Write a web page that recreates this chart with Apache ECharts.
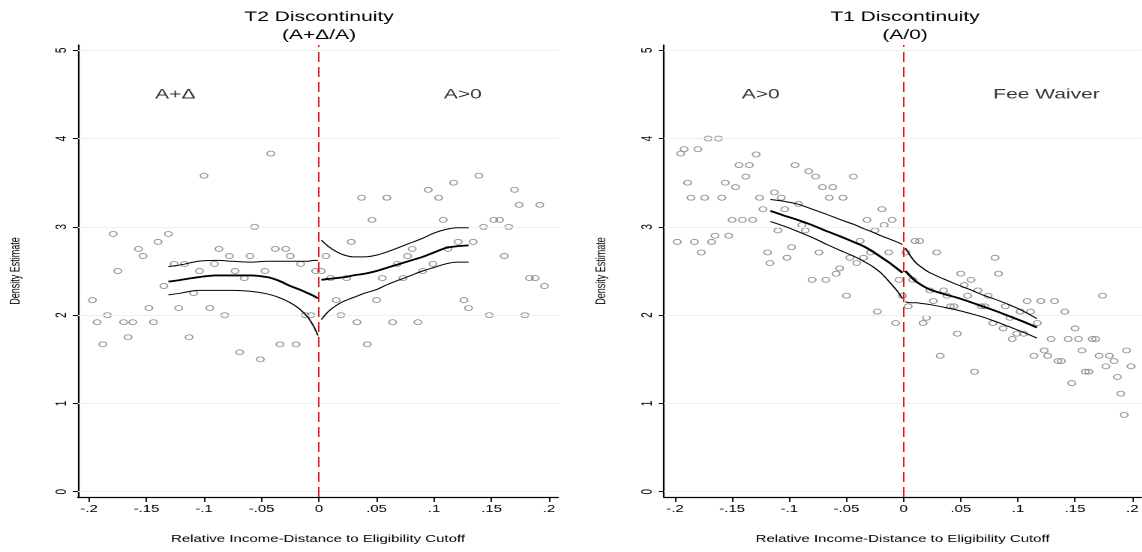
<!DOCTYPE html>
<html>
<head>
<meta charset="utf-8">
<script src="https://cdn.jsdelivr.net/npm/echarts@6/dist/echarts.min.js"></script>
<style>
html,body{margin:0;padding:0;background:#fff;overflow:hidden;width:1142px;height:552px;}
#wrap{width:1142px;height:552px;overflow:hidden;position:relative;}
#chart{width:762px;height:552px;transform:scaleX(1.5);transform-origin:0 0;position:absolute;left:0;top:0;}
</style>
</head>
<body>
<div id="wrap"><div id="chart"></div></div>
<script>
// ---------- tick labels / text ----------
const xTickValues = [-0.2, -0.15, -0.1, -0.05, 0, 0.05, 0.1, 0.15, 0.2];
const xTickLabels = ['-.2', '-.15', '-.1', '-.05', '0', '.05', '.1', '.15', '.2'];
const yTickValues = [0, 1, 2, 3, 4, 5];
const yTickLabels = ['0', '1', '2', '3', '4', '5'];
const xAxisTitle = 'Relative Income-Distance to Eligibility Cutoff';
const yAxisTitle = 'Density Estimate';
const panelTitles = ['T2 Discontinuity\n(A+\u0394/A)', 'T1 Discontinuity\n(A/0)'];
const t2Labels = ['A+\u0394', 'A>0'];
const t1Labels = ['A>0', 'Fee Waiver'];
const labelX = [-0.125, 0.125];
const labelY = [4.5, 4.5];
const cutoffX = [0];

// ---------- T2 panel: binned density points ----------
const t2PointsX = [
 -0.179,-0.175,-0.157,-0.153,-0.140,-0.131,-0.126,-0.117,-0.104,-0.100,-0.091,-0.087,-0.078,-0.073,-0.065,-0.060,-0.056,-0.047,-0.042,-0.038,-0.029,-0.025,-0.016,-0.003,0.002,0.006,
 -0.135,-0.197,-0.109,-0.193,-0.184,-0.188,-0.170,-0.162,-0.166,-0.148,-0.144,-0.122,-0.113,-0.095,-0.082,-0.069,-0.051,-0.034,-0.020,-0.012,-0.007,
 0.010,0.028,0.037,0.046,0.055,0.059,0.068,0.073,0.077,0.081,0.090,0.095,0.099,0.104,0.108,0.112,0.117,0.121,0.134,0.139,0.143,0.152,0.157,0.161,0.165,0.170,0.174,0.183,0.188,0.192,
 0.024,0.015,0.019,0.033,0.042,0.050,0.064,0.086,0.126,0.130,0.148,0.179,0.196
];
const t2PointsY = [
 2.92,2.50,2.75,2.67,2.83,2.92,2.58,2.58,2.50,3.58,2.58,2.75,2.67,2.50,2.42,2.67,3.00,2.50,3.83,2.75,2.75,2.67,2.58,2.50,2.50,2.67,
 2.33,2.17,2.25,1.92,2.00,1.67,1.92,1.92,1.75,2.08,1.92,2.08,1.75,2.08,2.00,1.58,1.50,1.67,1.67,2.00,2.00,
 2.42,2.83,3.33,3.08,2.42,3.33,2.58,2.42,2.67,2.75,2.50,3.42,2.58,3.33,3.08,2.75,3.50,2.83,2.83,3.58,3.00,3.08,3.08,2.67,3.00,3.42,3.25,2.42,2.42,3.25,
 2.42,2.17,2.00,1.92,1.67,2.17,1.92,1.92,2.17,2.08,2.00,2.00,2.33
];

// ---------- T2 panel: local linear fits with confidence bands ----------
const t2LeftFitX  = [-0.131,-0.12,-0.105,-0.09,-0.075,-0.06,-0.045,-0.035,-0.025,-0.017,-0.01,-0.005,-0.001];
const t2LeftFitHi = [2.55,2.57,2.61,2.62,2.61,2.60,2.61,2.61,2.61,2.61,2.61,2.62,2.62];
const t2LeftFitMid= [2.38,2.40,2.43,2.45,2.45,2.45,2.43,2.39,2.33,2.29,2.25,2.22,2.19];
const t2LeftFitLo = [2.23,2.25,2.28,2.28,2.28,2.27,2.24,2.20,2.14,2.07,1.98,1.88,1.77];
const t2RightFitX  = [0.002,0.008,0.015,0.022,0.03,0.04,0.05,0.06,0.07,0.08,0.09,0.1,0.11,0.12,0.13];
const t2RightFitHi = [2.85,2.78,2.72,2.68,2.66,2.66,2.68,2.72,2.77,2.82,2.87,2.93,2.97,2.99,2.99];
const t2RightFitMid= [2.40,2.41,2.42,2.43,2.45,2.47,2.50,2.54,2.58,2.62,2.66,2.71,2.76,2.78,2.79];
const t2RightFitLo = [1.95,2.04,2.11,2.16,2.20,2.25,2.29,2.35,2.40,2.45,2.50,2.54,2.58,2.60,2.60];

// ---------- T1 panel: binned density points ----------
const t1PointsX = [
 -0.198,-0.195,-0.192,-0.189,-0.186,-0.183,-0.180,-0.177,-0.174,-0.171,-0.168,-0.165,-0.162,-0.159,-0.156,-0.153,-0.150,-0.147,-0.144,-0.141,-0.138,-0.135,-0.132,-0.129,-0.126,-0.123,-0.119,-0.117,-0.113,-0.110,-0.107,-0.104,-0.102,-0.098,-0.095,-0.092,-0.089,-0.086,-0.083,-0.080,-0.077,-0.074,-0.071,-0.068,-0.065,-0.062,-0.059,-0.056,-0.053,-0.047,-0.044,-0.041,-0.038,-0.035,-0.032,-0.029,-0.025,-0.019,-0.017,-0.013,-0.010,-0.004,0.002,
 -0.050,-0.023,-0.007,-0.001,0.004,
 0.010,0.014,0.008,0.017,0.020,0.023,0.026,0.029,0.032,0.035,0.038,0.041,0.044,0.047,0.050,0.053,0.056,0.059,0.062,0.065,0.068,0.071,0.074,0.078,0.080,0.083,0.087,0.089,0.093,0.095,0.099,0.102,0.105,0.108,0.111,0.114,0.117,0.120,0.123,0.126,0.129,0.132,0.135,0.138,0.141,0.144,0.147,0.150,0.153,0.156,0.159,0.162,0.165,0.168,0.171,0.174,0.177,0.180,0.184,0.187,0.190,0.193,0.195,0.199
];
const t1PointsY = [
 2.83,3.83,3.88,3.50,3.33,2.83,3.88,2.71,3.33,4.00,2.83,2.90,4.00,3.33,3.50,2.90,3.08,3.45,3.70,3.08,3.57,3.70,3.08,3.82,3.33,3.20,2.71,2.59,3.39,2.96,3.33,3.20,2.65,2.77,3.70,3.26,3.02,2.96,3.63,2.40,3.57,2.71,3.45,2.40,3.33,3.45,2.47,2.53,3.33,2.65,3.57,2.59,2.84,2.65,3.08,2.71,2.96,3.20,3.02,2.71,3.08,2.40,2.71,
 2.22,2.04,1.91,2.22,2.10,
 2.84,2.84,2.40,1.91,1.97,2.28,2.16,2.71,1.54,2.28,2.22,2.10,2.10,1.79,2.47,2.34,2.22,2.40,1.36,2.28,2.10,2.10,2.22,1.91,2.65,2.47,1.85,2.10,1.97,1.73,1.79,2.04,1.79,2.16,2.04,1.54,1.91,2.16,1.60,1.54,1.73,2.16,1.48,1.48,2.04,1.73,1.23,1.85,1.73,1.60,1.36,1.36,1.73,1.73,1.54,2.22,1.42,1.54,1.48,1.30,1.11,0.87,1.60,1.42
];

// ---------- T1 panel: local linear fits with confidence bands ----------
const t1LeftFitX  = [-0.1165,-0.105,-0.093,-0.08,-0.067,-0.055,-0.044,-0.035,-0.027,-0.02,-0.012,-0.006,-0.001];
const t1LeftFitHi = [3.31,3.29,3.26,3.20,3.14,3.08,3.03,2.98,2.94,2.90,2.86,2.83,2.80];
const t1LeftFitMid= [3.18,3.13,3.08,3.02,2.95,2.89,2.83,2.78,2.72,2.66,2.59,2.53,2.48];
const t1LeftFitLo = [3.06,3.01,2.95,2.88,2.80,2.73,2.67,2.61,2.55,2.48,2.37,2.28,2.19];
const t1RightFitX  = [0.0015,0.006,0.011,0.017,0.023,0.035,0.046,0.058,0.069,0.08,0.092,0.104,0.1166];
const t1RightFitHi = [2.76,2.67,2.59,2.53,2.48,2.41,2.35,2.29,2.23,2.18,2.12,2.05,1.96];
const t1RightFitMid= [2.50,2.44,2.38,2.33,2.29,2.24,2.20,2.15,2.10,2.05,1.99,1.93,1.86];
const t1RightFitLo = [2.15,2.14,2.14,2.13,2.12,2.09,2.06,2.02,1.98,1.93,1.87,1.81,1.74];

// ---------- build chart ----------
const FONT = '"Liberation Sans", Arial, Helvetica, sans-serif';
const X_MIN = -0.2096, X_MAX = 0.2078, Y_MIN = -0.06, Y_MAX = 5.06;
const GRID_W = 320, GRID_TOP = 45, GRID_H = 452;
const gridLefts = [52, 442.67];

function zip(xs, ys) { return xs.map((x, i) => [x, ys[i]]); }
function nearestLabel(v, vals, labels) {
  let best = 0;
  for (let i = 1; i < vals.length; i++) if (Math.abs(vals[i] - v) < Math.abs(vals[best] - v)) best = i;
  return labels[best];
}

const grids = gridLefts.map(l => ({ left: l, top: GRID_TOP, width: GRID_W, height: GRID_H, containLabel: false }));

const xAxes = [0, 1].map(i => ({
  gridIndex: i, type: 'value', min: X_MIN, max: X_MAX,
  axisLine: { show: true, onZero: false, lineStyle: { color: '#000', width: 1.2 } },
  axisTick: { show: true, customValues: xTickValues, length: 5, lineStyle: { color: '#000', width: 0.9 } },
  axisLabel: { show: true, customValues: xTickValues, formatter: v => nearestLabel(v, xTickValues, xTickLabels),
               color: '#000', fontSize: 10, fontFamily: FONT, margin: 7 },
  splitLine: { show: false },
  name: xAxisTitle, nameLocation: 'middle', nameGap: 37,
  nameTextStyle: { color: '#000', fontSize: 10, fontFamily: FONT }
}));

const yAxes = [0, 1].map(i => ({
  gridIndex: i, type: 'value', min: Y_MIN, max: Y_MAX,
  axisLine: { show: true, onZero: false, lineStyle: { color: '#000', width: 1.1 } },
  axisTick: { show: true, customValues: yTickValues, length: 3.5, lineStyle: { color: '#000', width: 1 } },
  axisLabel: { show: true, customValues: yTickValues, formatter: v => nearestLabel(v, yTickValues, yTickLabels),
               rotate: 90, color: '#000', fontSize: 10, fontFamily: FONT, margin: 6 },
  splitLine: { show: false },
  name: yAxisTitle, nameLocation: 'middle', nameGap: 37,
  nameTextStyle: { color: '#000', fontSize: 9, fontFamily: FONT }
}));

function guideSeries(i) {
  return {
    type: 'line', xAxisIndex: i, yAxisIndex: i, data: [], z: 1, silent: true,
    markLine: {
      silent: true, symbol: ['none', 'none'], animation: false, label: { show: false },
      data: yTickValues.map(v => ({ yAxis: v, lineStyle: { color: '#e9f0f1', width: 1, type: 'solid' } }))
    }
  };
}
function cutoffSeries(i) {
  return {
    type: 'line', xAxisIndex: i, yAxisIndex: i, data: [], z: 4, silent: true,
    markLine: {
      silent: true, symbol: ['none', 'none'], animation: false, label: { show: false },
      data: cutoffX.map(v => ({ xAxis: v, lineStyle: { color: '#e8131b', width: 1, type: [10, 5] } }))
    }
  };
}
function pointSeries(i, xs, ys) {
  return {
    type: 'scatter', xAxisIndex: i, yAxisIndex: i, data: zip(xs, ys), z: 3,
    symbol: 'circle', symbolSize: 5,
    itemStyle: { color: 'rgba(0,0,0,0)', borderColor: '#7a7a7a', borderWidth: 0.9 }
  };
}
function fitSeries(i, xs, ys, w) {
  return {
    type: 'line', xAxisIndex: i, yAxisIndex: i, data: zip(xs, ys), z: 5,
    symbol: 'none', smooth: 0.3, lineStyle: { color: '#000', width: w }
  };
}
function textSeries(i, labels) {
  return {
    type: 'scatter', xAxisIndex: i, yAxisIndex: i, z: 6, silent: true,
    symbolSize: 1, itemStyle: { color: 'rgba(0,0,0,0)' },
    data: labels.map((t, k) => ({ value: [labelX[k], labelY[k]], name: t })),
    label: { show: true, position: 'inside', formatter: p => p.name, color: '#000', fontSize: 14, fontFamily: FONT }
  };
}

const series = [
  guideSeries(0), guideSeries(1),
  pointSeries(0, t2PointsX, t2PointsY), pointSeries(1, t1PointsX, t1PointsY),
  fitSeries(0, t2LeftFitX, t2LeftFitHi, 1), fitSeries(0, t2LeftFitX, t2LeftFitMid, 1.8), fitSeries(0, t2LeftFitX, t2LeftFitLo, 1),
  fitSeries(0, t2RightFitX, t2RightFitHi, 1), fitSeries(0, t2RightFitX, t2RightFitMid, 1.8), fitSeries(0, t2RightFitX, t2RightFitLo, 1),
  fitSeries(1, t1LeftFitX, t1LeftFitHi, 1), fitSeries(1, t1LeftFitX, t1LeftFitMid, 1.8), fitSeries(1, t1LeftFitX, t1LeftFitLo, 1),
  fitSeries(1, t1RightFitX, t1RightFitHi, 1), fitSeries(1, t1RightFitX, t1RightFitMid, 1.8), fitSeries(1, t1RightFitX, t1RightFitLo, 1),
  cutoffSeries(0), cutoffSeries(1),
  textSeries(0, t2Labels), textSeries(1, t1Labels)
];

const zeroPx = gridLefts.map(l => l + (0 - X_MIN) / (X_MAX - X_MIN) * GRID_W);
const graphic = panelTitles.map((t, i) => ({
  type: 'text', x: zeroPx[i], y: 8, silent: true,
  style: { text: t, fill: '#000', font: '14px ' + FONT, textAlign: 'center', textVerticalAlign: 'top', lineHeight: 18 }
}));

const chart = echarts.init(document.getElementById('chart'), null, { renderer: 'canvas', devicePixelRatio: 2 });
chart.setOption({
  animation: false,
  backgroundColor: '#fff',
  textStyle: { fontFamily: FONT },
  grid: grids, xAxis: xAxes, yAxis: yAxes,
  series: series, graphic: graphic
});
</script>
</body>
</html>
